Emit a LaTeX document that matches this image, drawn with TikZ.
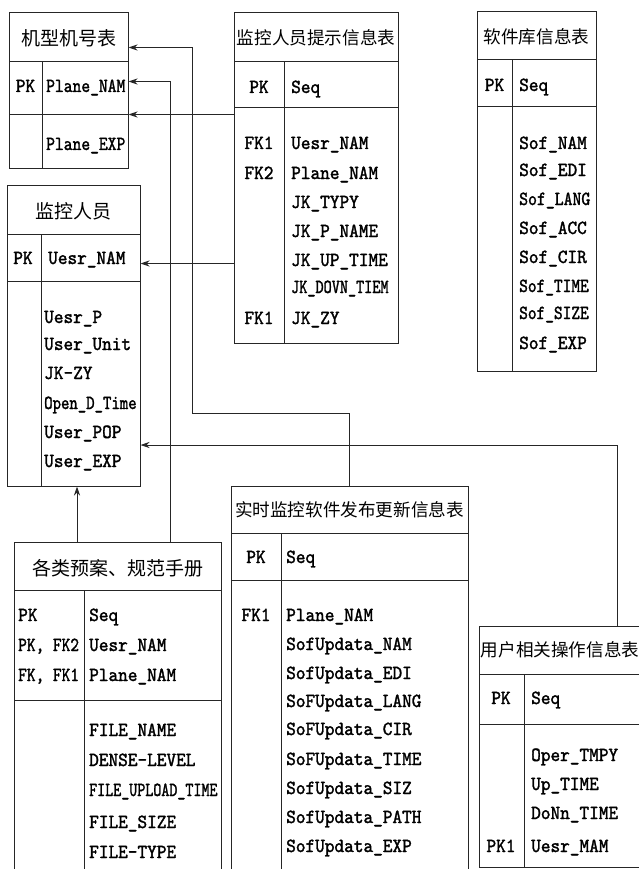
\documentclass[tikz,border=0pt]{standalone}
\usepackage{fontspec}
\setmainfont{lmmono10-regular}[Extension=.otf,FakeStretch=0.92,FakeBold=1.6]
\newfontfamily\cjk{Noto Sans CJK SC}
\usepackage{tikz}
\usetikzlibrary{arrows.meta}
\usetikzlibrary{fit}
\newcommand{\tightx}[2]{\scalebox{#1}[1]{#2}}

\begin{document}
\begin{tikzpicture}[x=1pt, y=-1pt, >={Stealth[length=9pt,width=6pt]},
    rule/.style={line width=1pt, draw=black!85},
    sec/.style={rule, inner sep=0pt},
    ttl/.style={font=\cjk\fontsize{17.6}{20}\selectfont, inner sep=0pt, text height=13.4pt, text depth=0pt},
    bigttl/.style={font=\cjk\fontsize{19}{22}\selectfont, inner sep=0pt, text height=14.4pt, text depth=0pt},
    fld/.style={anchor=west, inner sep=0pt, text height=12pt, text depth=0pt},
    key/.style={inner sep=0pt, text height=12pt, text depth=0pt},
    link/.style={->, rule},
    font=\fontsize{20}{23}\selectfont]

    \clip (0,0) rectangle (639,869);
    \fill[white] (0,0) rectangle (639,869);

    % 机型机号表
    \node[sec, fit={(9,13) (128,62)}] (t1h) {};
    \node[sec, fit={(9,62) (128,115)}] (t1k) {};
    \node[sec, fit={(9,115) (128,169)}] (t1b) {};
    \draw[rule] (42,62) -- (42,169);
    \node[bigttl] (t1-ttl) at (68.5,38) {机型机号表};
    \node[key] (t1-pk) at (25.5,86) {PK};
    \node[fld] (t1-plane) at (46,86) {\tightx{0.91}{Plane\_NAM}};
    \node[fld] (t1-exp) at (46,144) {\tightx{0.91}{Plane\_EXP}};

    % 监控人员提示信息表
    \node[sec, fit={(234,13) (398,62)}] (t2h) {};
    \node[sec, fit={(234,62) (398,108)}] (t2k) {};
    \node[sec, fit={(234,108) (398,343)}] (t2b) {};
    \draw[rule] (284,62) -- (284,343);
    \node[ttl] (t2-ttl) at (316,38) {监控人员提示信息表};
    \node[key] (t2-pk) at (259,87) {PK};
    \node[fld] (t2-seq) at (291,87) {Seq};
    \node[key] (t2-fk1) at (259,143) {FK1};
    \node[fld] (t2-uesr) at (291,143) {Uesr\_NAM};
    \node[key] (t2-fk2) at (259,173) {FK2};
    \node[fld] (t2-plane) at (291,173) {Plane\_NAM};
    \node[fld] (t2-typy) at (291,202) {JK\_TYPY};
    \node[fld] (t2-pname) at (291,231) {JK\_P\_NAME};
    \node[fld] (t2-up) at (291,260) {JK\_UP\_TIME};
    \node[fld] (t2-down) at (291,287) {\tightx{0.84}{JK\_DOVN\_TIEM}};
    \node[key] (t2-fk1b) at (259,318) {FK1};
    \node[fld] (t2-zy) at (291,318) {JK\_ZY};

    % 软件库信息表
    \node[sec, fit={(477,12) (596,60)}] (t3h) {};
    \node[sec, fit={(477,60) (596,107)}] (t3k) {};
    \node[sec, fit={(477,107) (596,371)}] (t3b) {};
    \draw[rule] (512,60) -- (512,371);
    \node[ttl] (t3-ttl) at (536.5,37) {软件库信息表};
    \node[key] (t3-pk) at (494.5,85) {PK};
    \node[fld] (t3-seq) at (519,85) {Seq};
    \node[fld] (t3-nam) at (519,143) {Sof\_NAM};
    \node[fld] (t3-edi) at (519,170) {Sof\_EDI};
    \node[fld] (t3-lang) at (519,199) {\tightx{0.92}{Sof\_LANG}};
    \node[fld] (t3-acc) at (519,228) {Sof\_ACC};
    \node[fld] (t3-cir) at (519,257) {Sof\_CIR};
    \node[fld] (t3-time) at (519,286) {\tightx{0.9}{Sof\_TIME}};
    \node[fld] (t3-size) at (519,313) {\tightx{0.9}{Sof\_SIZE}};
    \node[fld] (t3-exp) at (519,343) {Sof\_EXP};

    % 监控人员
    \node[sec, fit={(7,185) (140,234)}] (t4h) {};
    \node[sec, fit={(7,234) (140,281)}] (t4k) {};
    \node[sec, fit={(7,281) (140,486)}] (t4b) {};
    \draw[rule] (41,234) -- (41,486);
    \node[bigttl] (t4-ttl) at (73,211) {监控人员};
    \node[key] (t4-pk) at (23,258) {PK};
    \node[fld] (t4-uesr) at (48,258) {Uesr\_NAM};
    \node[fld] (t4-p) at (44,317) {Uesr\_P};
    \node[fld] (t4-unit) at (44,344) {User\_Unit};
    \node[fld] (t4-zy) at (44,373) {JK-ZY};
    \node[fld] (t4-open) at (44,403) {\tightx{0.87}{Open\_D\_Time}};
    \node[fld] (t4-pop) at (44,432) {User\_POP};
    \node[fld] (t4-exp) at (44,461) {User\_EXP};

    % 各类预案、规范手册
    \node[sec, fit={(14,542) (221,590)}] (t5h) {};
    \node[sec, fit={(14,590) (221,700)}] (t5k) {};
    \node[sec, fit={(14,700) (221,880)}] (t5b) {};
    \draw[rule] (84,590) -- (84,880);
    \node[bigttl] (t5-ttl) at (117.5,568) {各类预案、规范手册};
    \node[fld] (t5-pk) at (18,615) {PK};
    \node[fld] (t5-seq) at (89,615) {Seq};
    \node[fld] (t5-pkfk2) at (18,645) {\tightx{0.9}{PK, FK2}};
    \node[fld] (t5-uesr) at (89,645) {Uesr\_NAM};
    \node[fld] (t5-fkfk1) at (18,675) {\tightx{0.9}{FK, FK1}};
    \node[fld] (t5-plane) at (89,675) {Plane\_NAM};
    \node[fld] (t5-name) at (89,730) {FILE\_NAME};
    \node[fld] (t5-dense) at (89,760) {DENSE-LEVEL};
    \node[fld] (t5-upload) at (89,790) {\tightx{0.83}{FILE\_UPLOAD\_TIME}};
    \node[fld] (t5-size) at (89,822) {FILE\_SIZE};
    \node[fld] (t5-type) at (89,852) {FILE-TYPE};

    % 实时监控软件发布更新信息表
    \node[sec, fit={(231,486) (468,533)}] (t6h) {};
    \node[sec, fit={(231,533) (468,580)}] (t6k) {};
    \node[sec, fit={(231,580) (468,880)}] (t6b) {};
    \draw[rule] (281,533) -- (281,880);
    \node[ttl] (t6-ttl) at (349.5,510) {实时监控软件发布更新信息表};
    \node[key] (t6-pk) at (256,557) {PK};
    \node[fld] (t6-seq) at (286,557) {Seq};
    \node[key] (t6-fk1) at (256,615) {FK1};
    \node[fld] (t6-plane) at (286,615) {Plane\_NAM};
    \node[fld] (t6-nam) at (286,644) {SofUpdata\_NAM};
    \node[fld] (t6-edi) at (286,673) {SofUpdata\_EDI};
    \node[fld] (t6-lang) at (286,701) {SoFUpdata\_LANG};
    \node[fld] (t6-cir) at (286,729) {SoFUpdata\_CIR};
    \node[fld] (t6-time) at (286,759) {SoFUpdata\_TIME};
    \node[fld] (t6-siz) at (286,788) {SofUpdata\_SIZ};
    \node[fld] (t6-path) at (286,817) {SofUpdata\_PATH};
    \node[fld] (t6-exp) at (286,846) {SofUpdata\_EXP};

    % 用户相关操作信息表
    \node[sec, fit={(479,626) (641,674)}] (t7h) {};
    \node[sec, fit={(479,674) (641,724)}] (t7k) {};
    \node[sec, fit={(479,724) (641,867)}] (t7b) {};
    \draw[rule] (524,674) -- (524,867);
    \node[ttl] (t7-ttl) at (560,650) {用户相关操作信息表};
    \node[key] (t7-pk) at (501,698) {PK};
    \node[fld] (t7-seq) at (531,698) {Seq};
    \node[fld] (t7-tmpy) at (531,755) {Oper\_TMPY};
    \node[fld] (t7-up) at (531,784) {Up\_TIME};
    \node[fld] (t7-down) at (531,813) {DoNn\_TIME};
    \node[key] (t7-pk1) at (501,846) {PK1};
    \node[fld] (t7-uesr) at (531,846) {Uesr\_MAM};

    % links
    \coordinate (bendA) at (192,413);
    \coordinate (bendB) at (170,0);
    \coordinate (bendC) at (77,0);
    \coordinate (bendD) at (617,0);
    \draw[link] (t2b.west |- t1b.north) -- (t1b.north east);
    \draw[link] ([yshift=-38pt]t2b.west) -- ([yshift=-38pt]t2b.west -| t4k.east);
    \draw[link] (t6h.north) |- (bendA) |- ([yshift=-10pt]t1h.east);
    \draw[link] (t5h.north -| bendB) |- ([yshift=7pt]t1k.east);
    \draw[link] (t5h.north -| bendC) -- (t4b.south -| bendC);
    \draw[link] (t7h.north -| bendD) |- ([yshift=-61.5pt]t4b.east);

\end{tikzpicture}
\end{document}
